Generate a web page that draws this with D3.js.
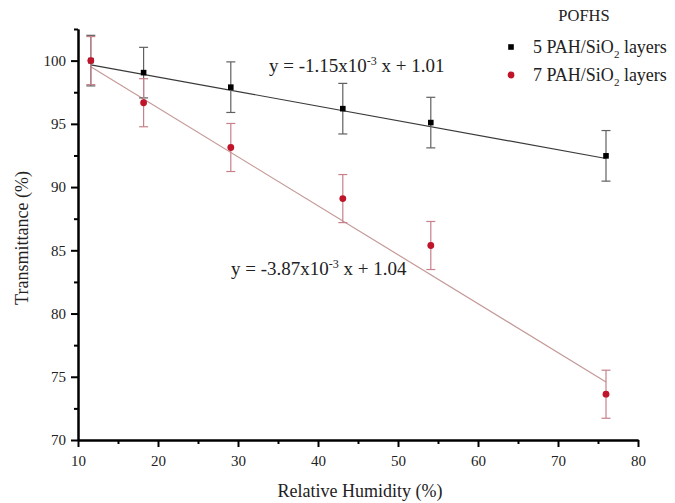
<!DOCTYPE html>
<html>
<head>
<meta charset="utf-8">
<script src="https://cdn.jsdelivr.net/npm/d3@7"></script>
<style>
  body { margin: 0; background: #fff; }
  svg { display: block; }
  svg text { font-family: "Liberation Serif", "Times New Roman", serif !important; fill: #222; }
</style>
</head>
<body>
<svg id="chart" width="675" height="503"></svg>
<script>
// Relative humidity (%) of each measurement
const humidity = [11.6, 18.2, 29.1, 43.1, 54.1, 76];
// Transmittance (%) for the 5-layer coating, with its error
const fiveLayers = [100, 99.05, 97.9, 96.2, 95.1, 92.47];
const fiveErr = [2.0, 2.0, 2.0, 2.0, 2.0, 2.0];
// Transmittance (%) for the 7-layer coating, with its error
const sevenLayers = [100, 96.67, 93.13, 89.09, 85.38, 73.62];
const sevenErr = [1.9, 1.9, 1.9, 1.9, 1.9, 1.9];
// Linear fits (transmittance as a fraction): slope, intercept
const fiveFit = [-1.15e-3, 1.01];
const sevenFit = [-3.87e-3, 1.04];
// Axis ticks
const xTicks = [10, 20, 30, 40, 50, 60, 70, 80];
const xMinor = [15, 25, 35, 45, 55, 65, 75];
const yTicks = [70, 75, 80, 85, 90, 95, 100];
const yMinor = [72.5, 77.5, 82.5, 87.5, 92.5, 97.5, 102.5];
// Legend entries
const legendTitle = "POFHS";
const legendLabels = ["5 PAH/SiO", "7 PAH/SiO"];

const serif = '"Liberation Serif", "Times New Roman", serif';
const svg = d3.select("#chart");
const x = d3.scaleLinear().domain([10, 80]).range([78, 638]);
const y = d3.scaleLinear().domain([70, 102.5]).range([440, 29]);

const series = [
  { vals: fiveLayers, err: fiveErr, fit: fiveFit, color: "#000", errColor: "#606060", fitColor: "#3a3a3a", shape: "square" },
  { vals: sevenLayers, err: sevenErr, fit: sevenFit, color: "#c0142a", errColor: "#c8808a", fitColor: "#c49a98", shape: "circle" }
];

// Fit lines
series.forEach(s => {
  const x0 = d3.min(humidity), x1 = d3.max(humidity);
  const f = v => (s.fit[0] * v + s.fit[1]) * 100;
  svg.append("line")
    .attr("x1", x(x0)).attr("y1", y(f(x0)))
    .attr("x2", x(x1)).attr("y2", y(f(x1)))
    .attr("stroke", s.fitColor).attr("stroke-width", 1.2);
});

// Error bars
series.forEach(s => {
  const g = svg.append("g").attr("stroke", s.errColor).attr("stroke-width", 1.2);
  humidity.forEach((h, i) => {
    const cx = x(h), top = y(s.vals[i] + s.err[i]), bot = y(s.vals[i] - s.err[i]);
    g.append("line").attr("x1", cx).attr("x2", cx).attr("y1", top).attr("y2", bot);
    g.append("line").attr("x1", cx - 4.5).attr("x2", cx + 4.5).attr("y1", top).attr("y2", top);
    g.append("line").attr("x1", cx - 4.5).attr("x2", cx + 4.5).attr("y1", bot).attr("y2", bot);
  });
});

// Points
function drawMarker(sel, shape, color) {
  if (shape === "square") {
    sel.append("rect").attr("x", -2.8).attr("y", -2.8).attr("width", 5.6).attr("height", 5.6).attr("fill", color);
  } else {
    sel.append("circle").attr("r", 3.4).attr("fill", color);
  }
}
series.forEach(s => {
  humidity.forEach((h, i) => {
    const g = svg.append("g").attr("transform", `translate(${x(h)},${y(s.vals[i])})`);
    drawMarker(g, s.shape, s.color);
  });
});

// Axes
function styleAxis(g) {
  g.attr("font-family", serif).style("font-family", serif);
  g.select(".domain").attr("stroke", "#000").attr("stroke-width", 2);
  g.selectAll(".tick line").attr("stroke", "#000").attr("stroke-width", 2);
  g.selectAll(".tick text").style("font-family", serif).attr("font-size", 15).attr("fill", "#222");
}
svg.append("g").attr("transform", "translate(0,440)")
  .call(d3.axisBottom(x).tickValues(xMinor).tickSize(4).tickSizeOuter(0).tickFormat(""))
  .call(styleAxis);
svg.append("g").attr("transform", "translate(0,440)")
  .call(d3.axisBottom(x).tickValues(xTicks).tickSize(7).tickSizeOuter(0).tickPadding(8))
  .call(styleAxis);
svg.append("g").attr("transform", "translate(78,0)")
  .call(d3.axisLeft(y).tickValues(yMinor).tickSize(4).tickSizeOuter(0).tickFormat(""))
  .call(styleAxis);
svg.append("g").attr("transform", "translate(78,0)")
  .call(d3.axisLeft(y).tickValues(yTicks).tickSize(7).tickSizeOuter(0).tickPadding(5))
  .call(styleAxis);

// Axis titles
svg.append("text").attr("x", 360).attr("y", 497).attr("text-anchor", "middle")
  .attr("font-size", 18).text("Relative Humidity (%)");
svg.append("text").attr("transform", "translate(28,238) rotate(-90)").attr("text-anchor", "middle")
  .attr("font-size", 18).text("Transmittance (%)");

// Fit equations
function equation(tx, ty, slope, intercept) {
  const t = svg.append("text").attr("x", tx).attr("y", ty).attr("font-size", 19);
  t.append("tspan").text("y = " + slope + "x10");
  t.append("tspan").attr("dy", -7).attr("font-size", 12).text("-3");
  t.append("tspan").attr("dy", 7).text(" x + " + intercept);
}
equation(269, 72, "-1.15", "1.01");
equation(231, 275, "-3.87", "1.04");

// Legend
svg.append("text").attr("x", 584).attr("y", 21).attr("text-anchor", "middle")
  .attr("font-size", 16.5).text(legendTitle);
series.forEach((s, i) => {
  const ly = 47 + i * 28;
  const g = svg.append("g").attr("transform", `translate(511,${ly})`);
  drawMarker(g, s.shape, s.color);
  const t = svg.append("text").attr("x", 533).attr("y", ly + 6).attr("font-size", 18);
  t.append("tspan").text(legendLabels[i]);
  t.append("tspan").attr("dy", 5).attr("font-size", 11).text("2");
  t.append("tspan").attr("dy", -5).text(" layers");
});
</script>
</body>
</html>
